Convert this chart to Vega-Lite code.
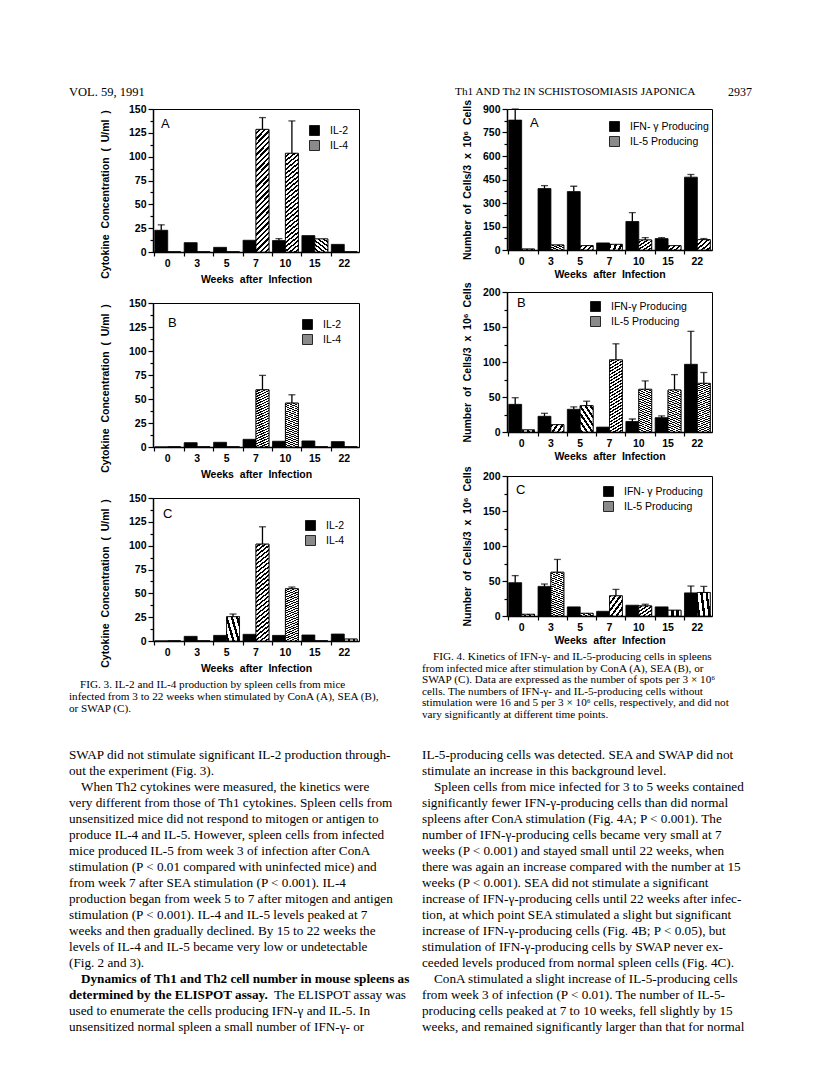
{
"$schema":"https://vega.github.io/schema/vega-lite/v6.json",
"padding":{"left":69,"top":86,"right":5,"bottom":5},
"background":"white",
"bounds":"flush",
"spacing":354,
"resolve":{"scale":{"x":"independent","y":"independent","xOffset":"independent","fill":"independent"},"legend":{"fill":"independent"}},
"config":{
 "view":{"stroke":null},
 "font":"Liberation Sans",
 "axis":{"domainColor":"black","domainWidth":1.5,"tickColor":"black","tickWidth":1.2,"labelColor":"black","labelFont":"Liberation Sans","labelFontWeight":"bold","labelFontSize":10.5,"titleColor":"black","titleFont":"Liberation Sans","titleFontWeight":"bold","titleFontSize":10.5,"grid":false},
 "axisX":{"labelAngle":0,"tickSize":4,"labelPadding":2,"titlePadding":6},
 "axisY":{"labelPadding":2},
 "legend":{"symbolType":"square","symbolSize":100,"symbolStrokeColor":"black","symbolStrokeWidth":0.8,"labelFont":"Liberation Sans","labelFontSize":10.5,"labelColor":"black","rowPadding":0,"labelOffset":10,"padding":0}
},
"hconcat":[
{"bounds":"flush","spacing":0,
 "resolve":{"scale":{"x":"independent","y":"independent","xOffset":"independent","fill":"independent"},"legend":{"fill":"independent"}},
 "vconcat":[
 {"width":206,"height":16.5,"data":{"values":[{"i":0,"t":"VOL. 59, 1991"}]},
  "mark":{"type":"text","align":"left","baseline":"middle","dx":-84,"font":"Liberation Serif","fontSize":12.5,"color":"black"},
  "encoding":{"x":{"value":0},"y":{"field":"i","type":"ordinal","scale":{"type":"point","padding":0,"align":0},"axis":null},"text":{"field":"t"}}},

 {"width":206,"height":143,"view":{"stroke":"black","strokeWidth":1},
  "title":{"text":"A","anchor":"start","frame":"group","offset":-27,"dx":8,"font":"Liberation Sans","fontSize":13,"fontWeight":"normal","color":"black"},
  "data":{"values":[
   {"wk":"0","s":"IL-2","v":22.8,"hi":28.5},{"wk":"0","s":"IL-4","v":0},
   {"wk":"3","s":"IL-2","v":9.8},{"wk":"3","s":"IL-4","v":0},
   {"wk":"5","s":"IL-2","v":4.9},{"wk":"5","s":"IL-4","v":0},
   {"wk":"7","s":"IL-2","v":12.3},{"wk":"7","s":"IL-4","v":128.6,"hi":141},
   {"wk":"10","s":"IL-2","v":12,"hi":14},{"wk":"10","s":"IL-4","v":103.5,"hi":137.5},
   {"wk":"15","s":"IL-2","v":17.2},{"wk":"15","s":"IL-4","v":13.7},
   {"wk":"22","s":"IL-2","v":8},{"wk":"22","s":"IL-4","v":0}]},
  "encoding":{
   "x":{"field":"wk","type":"ordinal","sort":["0","3","5","7","10","15","22"],"scale":{"paddingInner":0.12,"paddingOuter":0.06},"axis":{"title":"Weeks\u00a0 after\u00a0 Infection","bandPosition":0}},
   "xOffset":{"field":"s","type":"nominal","scale":{"domain":["IL-2","IL-4"],"paddingInner":0,"paddingOuter":0}},
   "y":{"field":"v","type":"quantitative","scale":{"domain":[0,150],"nice":false},"axis":{"title":"Cytokine\u00a0 Concentration\u00a0 (\u00a0 U/ml\u00a0 )","titlePadding":18,"titleY":85,"values":[0,12.5,25,37.5,50,62.5,75,87.5,100,112.5,125,137.5,150],"labelExpr":"datum.value % 25 === 0 ? datum.label : ''","tickSize":{"condition":{"test":"datum.value % 25 === 0","value":5},"value":3}}}},
  "layer":[
   {"mark":{"type":"bar","stroke":"black","strokeWidth":0.8},"encoding":{"fill":{"field":"s","type":"nominal","scale":{"domain":["IL-2","IL-4"],"range":["black","#8a8a8a"]},"legend":{"orient":"none","legendX":156,"legendY":16,"title":null,"encode":{"symbols":{"update":{"stroke":{"value":"black"},"strokeWidth":{"value":0.8}}}}}}}},
   {"transform":[{"filter":"datum.s === 'IL-4'"}],"mark":{"type":"bar","stroke":"black","strokeWidth":0.8,"fill":{"gradient":"linear","x1":0,"y1":0,"x2":0.12,"y2":1.12,"stops":[{"offset":0,"color":"white"},{"offset":0.0212,"color":"white"},{"offset":0.0212,"color":"black"},{"offset":0.0385,"color":"black"},{"offset":0.0385,"color":"white"},{"offset":0.0596,"color":"white"},{"offset":0.0596,"color":"black"},{"offset":0.0769,"color":"black"},{"offset":0.0769,"color":"white"},{"offset":0.0981,"color":"white"},{"offset":0.0981,"color":"black"},{"offset":0.1154,"color":"black"},{"offset":0.1154,"color":"white"},{"offset":0.1365,"color":"white"},{"offset":0.1365,"color":"black"},{"offset":0.1538,"color":"black"},{"offset":0.1538,"color":"white"},{"offset":0.175,"color":"white"},{"offset":0.175,"color":"black"},{"offset":0.1923,"color":"black"},{"offset":0.1923,"color":"white"},{"offset":0.2135,"color":"white"},{"offset":0.2135,"color":"black"},{"offset":0.2308,"color":"black"},{"offset":0.2308,"color":"white"},{"offset":0.2519,"color":"white"},{"offset":0.2519,"color":"black"},{"offset":0.2692,"color":"black"},{"offset":0.2692,"color":"white"},{"offset":0.2904,"color":"white"},{"offset":0.2904,"color":"black"},{"offset":0.3077,"color":"black"},{"offset":0.3077,"color":"white"},{"offset":0.3288,"color":"white"},{"offset":0.3288,"color":"black"},{"offset":0.3462,"color":"black"},{"offset":0.3462,"color":"white"},{"offset":0.3673,"color":"white"},{"offset":0.3673,"color":"black"},{"offset":0.3846,"color":"black"},{"offset":0.3846,"color":"white"},{"offset":0.4058,"color":"white"},{"offset":0.4058,"color":"black"},{"offset":0.4231,"color":"black"},{"offset":0.4231,"color":"white"},{"offset":0.4442,"color":"white"},{"offset":0.4442,"color":"black"},{"offset":0.4615,"color":"black"},{"offset":0.4615,"color":"white"},{"offset":0.4827,"color":"white"},{"offset":0.4827,"color":"black"},{"offset":0.5,"color":"black"},{"offset":0.5,"color":"white"},{"offset":0.5212,"color":"white"},{"offset":0.5212,"color":"black"},{"offset":0.5385,"color":"black"},{"offset":0.5385,"color":"white"},{"offset":0.5596,"color":"white"},{"offset":0.5596,"color":"black"},{"offset":0.5769,"color":"black"},{"offset":0.5769,"color":"white"},{"offset":0.5981,"color":"white"},{"offset":0.5981,"color":"black"},{"offset":0.6154,"color":"black"},{"offset":0.6154,"color":"white"},{"offset":0.6365,"color":"white"},{"offset":0.6365,"color":"black"},{"offset":0.6538,"color":"black"},{"offset":0.6538,"color":"white"},{"offset":0.675,"color":"white"},{"offset":0.675,"color":"black"},{"offset":0.6923,"color":"black"},{"offset":0.6923,"color":"white"},{"offset":0.7135,"color":"white"},{"offset":0.7135,"color":"black"},{"offset":0.7308,"color":"black"},{"offset":0.7308,"color":"white"},{"offset":0.7519,"color":"white"},{"offset":0.7519,"color":"black"},{"offset":0.7692,"color":"black"},{"offset":0.7692,"color":"white"},{"offset":0.7904,"color":"white"},{"offset":0.7904,"color":"black"},{"offset":0.8077,"color":"black"},{"offset":0.8077,"color":"white"},{"offset":0.8288,"color":"white"},{"offset":0.8288,"color":"black"},{"offset":0.8462,"color":"black"},{"offset":0.8462,"color":"white"},{"offset":0.8673,"color":"white"},{"offset":0.8673,"color":"black"},{"offset":0.8846,"color":"black"},{"offset":0.8846,"color":"white"},{"offset":0.9058,"color":"white"},{"offset":0.9058,"color":"black"},{"offset":0.9231,"color":"black"},{"offset":0.9231,"color":"white"},{"offset":0.9442,"color":"white"},{"offset":0.9442,"color":"black"},{"offset":0.9615,"color":"black"},{"offset":0.9615,"color":"white"},{"offset":0.9827,"color":"white"},{"offset":0.9827,"color":"black"},{"offset":1,"color":"black"}]}}},
   {"transform":[{"filter":"isValid(datum.hi)"}],"mark":{"type":"rule","color":"black","strokeWidth":1.3},"encoding":{"y2":{"field":"hi"}}},
   {"transform":[{"filter":"isValid(datum.hi)"}],"mark":{"type":"tick","orient":"horizontal","size":7,"thickness":1.3,"color":"black"},"encoding":{"y":{"field":"hi","type":"quantitative"}}}
  ]},

 {"width":206,"height":51,"data":{"values":[{"t":""}]},"mark":{"type":"text"},"encoding":{"text":{"field":"t"}}},

 {"width":206,"height":144,"view":{"stroke":"black","strokeWidth":1},
  "title":{"text":"B","anchor":"start","frame":"group","offset":-32,"dx":15,"font":"Liberation Sans","fontSize":13,"fontWeight":"normal","color":"black"},
  "data":{"values":[
   {"wk":"0","s":"IL-2","v":0},{"wk":"0","s":"IL-4","v":0},
   {"wk":"3","s":"IL-2","v":4.5},{"wk":"3","s":"IL-4","v":0},
   {"wk":"5","s":"IL-2","v":4.9},{"wk":"5","s":"IL-4","v":0},
   {"wk":"7","s":"IL-2","v":8},{"wk":"7","s":"IL-4","v":59.6,"hi":74.6},
   {"wk":"10","s":"IL-2","v":6},{"wk":"10","s":"IL-4","v":45.7,"hi":54.4},
   {"wk":"15","s":"IL-2","v":6.3},{"wk":"15","s":"IL-4","v":0},
   {"wk":"22","s":"IL-2","v":5.6},{"wk":"22","s":"IL-4","v":0}]},
  "encoding":{
   "x":{"field":"wk","type":"ordinal","sort":["0","3","5","7","10","15","22"],"scale":{"paddingInner":0.12,"paddingOuter":0.06},"axis":{"title":"Weeks\u00a0 after\u00a0 Infection","bandPosition":0}},
   "xOffset":{"field":"s","type":"nominal","scale":{"domain":["IL-2","IL-4"],"paddingInner":0,"paddingOuter":0}},
   "y":{"field":"v","type":"quantitative","scale":{"domain":[0,150],"nice":false},"axis":{"title":"Cytokine\u00a0 Concentration\u00a0 (\u00a0 U/ml\u00a0 )","titlePadding":18,"titleY":85,"values":[0,12.5,25,37.5,50,62.5,75,87.5,100,112.5,125,137.5,150],"labelExpr":"datum.value % 25 === 0 ? datum.label : ''","tickSize":{"condition":{"test":"datum.value % 25 === 0","value":5},"value":3}}}},
  "layer":[
   {"mark":{"type":"bar","stroke":"black","strokeWidth":0.8},"encoding":{"fill":{"field":"s","type":"nominal","scale":{"domain":["IL-2","IL-4"],"range":["black","#8a8a8a"]},"legend":{"orient":"none","legendX":149,"legendY":16,"title":null,"encode":{"symbols":{"update":{"stroke":{"value":"black"},"strokeWidth":{"value":0.8}}}}}}}},
   {"transform":[{"filter":"datum.s === 'IL-4'"}],"mark":{"type":"bar","stroke":"black","strokeWidth":0.8,"fill":{"gradient":"linear","x1":0,"y1":0,"x2":0.12,"y2":1.12,"stops":[{"offset":0,"color":"white"},{"offset":0.0212,"color":"white"},{"offset":0.0212,"color":"black"},{"offset":0.0385,"color":"black"},{"offset":0.0385,"color":"white"},{"offset":0.0596,"color":"white"},{"offset":0.0596,"color":"black"},{"offset":0.0769,"color":"black"},{"offset":0.0769,"color":"white"},{"offset":0.0981,"color":"white"},{"offset":0.0981,"color":"black"},{"offset":0.1154,"color":"black"},{"offset":0.1154,"color":"white"},{"offset":0.1365,"color":"white"},{"offset":0.1365,"color":"black"},{"offset":0.1538,"color":"black"},{"offset":0.1538,"color":"white"},{"offset":0.175,"color":"white"},{"offset":0.175,"color":"black"},{"offset":0.1923,"color":"black"},{"offset":0.1923,"color":"white"},{"offset":0.2135,"color":"white"},{"offset":0.2135,"color":"black"},{"offset":0.2308,"color":"black"},{"offset":0.2308,"color":"white"},{"offset":0.2519,"color":"white"},{"offset":0.2519,"color":"black"},{"offset":0.2692,"color":"black"},{"offset":0.2692,"color":"white"},{"offset":0.2904,"color":"white"},{"offset":0.2904,"color":"black"},{"offset":0.3077,"color":"black"},{"offset":0.3077,"color":"white"},{"offset":0.3288,"color":"white"},{"offset":0.3288,"color":"black"},{"offset":0.3462,"color":"black"},{"offset":0.3462,"color":"white"},{"offset":0.3673,"color":"white"},{"offset":0.3673,"color":"black"},{"offset":0.3846,"color":"black"},{"offset":0.3846,"color":"white"},{"offset":0.4058,"color":"white"},{"offset":0.4058,"color":"black"},{"offset":0.4231,"color":"black"},{"offset":0.4231,"color":"white"},{"offset":0.4442,"color":"white"},{"offset":0.4442,"color":"black"},{"offset":0.4615,"color":"black"},{"offset":0.4615,"color":"white"},{"offset":0.4827,"color":"white"},{"offset":0.4827,"color":"black"},{"offset":0.5,"color":"black"},{"offset":0.5,"color":"white"},{"offset":0.5212,"color":"white"},{"offset":0.5212,"color":"black"},{"offset":0.5385,"color":"black"},{"offset":0.5385,"color":"white"},{"offset":0.5596,"color":"white"},{"offset":0.5596,"color":"black"},{"offset":0.5769,"color":"black"},{"offset":0.5769,"color":"white"},{"offset":0.5981,"color":"white"},{"offset":0.5981,"color":"black"},{"offset":0.6154,"color":"black"},{"offset":0.6154,"color":"white"},{"offset":0.6365,"color":"white"},{"offset":0.6365,"color":"black"},{"offset":0.6538,"color":"black"},{"offset":0.6538,"color":"white"},{"offset":0.675,"color":"white"},{"offset":0.675,"color":"black"},{"offset":0.6923,"color":"black"},{"offset":0.6923,"color":"white"},{"offset":0.7135,"color":"white"},{"offset":0.7135,"color":"black"},{"offset":0.7308,"color":"black"},{"offset":0.7308,"color":"white"},{"offset":0.7519,"color":"white"},{"offset":0.7519,"color":"black"},{"offset":0.7692,"color":"black"},{"offset":0.7692,"color":"white"},{"offset":0.7904,"color":"white"},{"offset":0.7904,"color":"black"},{"offset":0.8077,"color":"black"},{"offset":0.8077,"color":"white"},{"offset":0.8288,"color":"white"},{"offset":0.8288,"color":"black"},{"offset":0.8462,"color":"black"},{"offset":0.8462,"color":"white"},{"offset":0.8673,"color":"white"},{"offset":0.8673,"color":"black"},{"offset":0.8846,"color":"black"},{"offset":0.8846,"color":"white"},{"offset":0.9058,"color":"white"},{"offset":0.9058,"color":"black"},{"offset":0.9231,"color":"black"},{"offset":0.9231,"color":"white"},{"offset":0.9442,"color":"white"},{"offset":0.9442,"color":"black"},{"offset":0.9615,"color":"black"},{"offset":0.9615,"color":"white"},{"offset":0.9827,"color":"white"},{"offset":0.9827,"color":"black"},{"offset":1,"color":"black"}]}}},
   {"transform":[{"filter":"isValid(datum.hi)"}],"mark":{"type":"rule","color":"black","strokeWidth":1.3},"encoding":{"y2":{"field":"hi"}}},
   {"transform":[{"filter":"isValid(datum.hi)"}],"mark":{"type":"tick","orient":"horizontal","size":7,"thickness":1.3,"color":"black"},"encoding":{"y":{"field":"hi","type":"quantitative"}}}
  ]},

 {"width":206,"height":51,"data":{"values":[{"t":""}]},"mark":{"type":"text"},"encoding":{"text":{"field":"t"}}},

 {"width":206,"height":143,"view":{"stroke":"black","strokeWidth":1},
  "title":{"text":"C","anchor":"start","frame":"group","offset":-28,"dx":10,"font":"Liberation Sans","fontSize":13,"fontWeight":"normal","color":"black"},
  "data":{"values":[
   {"wk":"0","s":"IL-2","v":0},{"wk":"0","s":"IL-4","v":0},
   {"wk":"3","s":"IL-2","v":4.9},{"wk":"3","s":"IL-4","v":0},
   {"wk":"5","s":"IL-2","v":5.9},{"wk":"5","s":"IL-4","v":25.5,"hi":28.3},
   {"wk":"7","s":"IL-2","v":7},{"wk":"7","s":"IL-4","v":101.6,"hi":119.8},
   {"wk":"10","s":"IL-2","v":5.9},{"wk":"10","s":"IL-4","v":54.8,"hi":56.6},
   {"wk":"15","s":"IL-2","v":6.3},{"wk":"15","s":"IL-4","v":0},
   {"wk":"22","s":"IL-2","v":7.3},{"wk":"22","s":"IL-4","v":2}]},
  "encoding":{
   "x":{"field":"wk","type":"ordinal","sort":["0","3","5","7","10","15","22"],"scale":{"paddingInner":0.12,"paddingOuter":0.06},"axis":{"title":"Weeks\u00a0 after\u00a0 Infection","bandPosition":0}},
   "xOffset":{"field":"s","type":"nominal","scale":{"domain":["IL-2","IL-4"],"paddingInner":0,"paddingOuter":0}},
   "y":{"field":"v","type":"quantitative","scale":{"domain":[0,150],"nice":false},"axis":{"title":"Cytokine\u00a0 Concentration\u00a0 (\u00a0 U/ml\u00a0 )","titlePadding":18,"titleY":85,"values":[0,12.5,25,37.5,50,62.5,75,87.5,100,112.5,125,137.5,150],"labelExpr":"datum.value % 25 === 0 ? datum.label : ''","tickSize":{"condition":{"test":"datum.value % 25 === 0","value":5},"value":3}}}},
  "layer":[
   {"mark":{"type":"bar","stroke":"black","strokeWidth":0.8},"encoding":{"fill":{"field":"s","type":"nominal","scale":{"domain":["IL-2","IL-4"],"range":["black","#8a8a8a"]},"legend":{"orient":"none","legendX":152,"legendY":22,"title":null,"encode":{"symbols":{"update":{"stroke":{"value":"black"},"strokeWidth":{"value":0.8}}}}}}}},
   {"transform":[{"filter":"datum.s === 'IL-4'"}],"mark":{"type":"bar","stroke":"black","strokeWidth":0.8,"fill":{"gradient":"linear","x1":0,"y1":0,"x2":0.12,"y2":1.12,"stops":[{"offset":0,"color":"white"},{"offset":0.0212,"color":"white"},{"offset":0.0212,"color":"black"},{"offset":0.0385,"color":"black"},{"offset":0.0385,"color":"white"},{"offset":0.0596,"color":"white"},{"offset":0.0596,"color":"black"},{"offset":0.0769,"color":"black"},{"offset":0.0769,"color":"white"},{"offset":0.0981,"color":"white"},{"offset":0.0981,"color":"black"},{"offset":0.1154,"color":"black"},{"offset":0.1154,"color":"white"},{"offset":0.1365,"color":"white"},{"offset":0.1365,"color":"black"},{"offset":0.1538,"color":"black"},{"offset":0.1538,"color":"white"},{"offset":0.175,"color":"white"},{"offset":0.175,"color":"black"},{"offset":0.1923,"color":"black"},{"offset":0.1923,"color":"white"},{"offset":0.2135,"color":"white"},{"offset":0.2135,"color":"black"},{"offset":0.2308,"color":"black"},{"offset":0.2308,"color":"white"},{"offset":0.2519,"color":"white"},{"offset":0.2519,"color":"black"},{"offset":0.2692,"color":"black"},{"offset":0.2692,"color":"white"},{"offset":0.2904,"color":"white"},{"offset":0.2904,"color":"black"},{"offset":0.3077,"color":"black"},{"offset":0.3077,"color":"white"},{"offset":0.3288,"color":"white"},{"offset":0.3288,"color":"black"},{"offset":0.3462,"color":"black"},{"offset":0.3462,"color":"white"},{"offset":0.3673,"color":"white"},{"offset":0.3673,"color":"black"},{"offset":0.3846,"color":"black"},{"offset":0.3846,"color":"white"},{"offset":0.4058,"color":"white"},{"offset":0.4058,"color":"black"},{"offset":0.4231,"color":"black"},{"offset":0.4231,"color":"white"},{"offset":0.4442,"color":"white"},{"offset":0.4442,"color":"black"},{"offset":0.4615,"color":"black"},{"offset":0.4615,"color":"white"},{"offset":0.4827,"color":"white"},{"offset":0.4827,"color":"black"},{"offset":0.5,"color":"black"},{"offset":0.5,"color":"white"},{"offset":0.5212,"color":"white"},{"offset":0.5212,"color":"black"},{"offset":0.5385,"color":"black"},{"offset":0.5385,"color":"white"},{"offset":0.5596,"color":"white"},{"offset":0.5596,"color":"black"},{"offset":0.5769,"color":"black"},{"offset":0.5769,"color":"white"},{"offset":0.5981,"color":"white"},{"offset":0.5981,"color":"black"},{"offset":0.6154,"color":"black"},{"offset":0.6154,"color":"white"},{"offset":0.6365,"color":"white"},{"offset":0.6365,"color":"black"},{"offset":0.6538,"color":"black"},{"offset":0.6538,"color":"white"},{"offset":0.675,"color":"white"},{"offset":0.675,"color":"black"},{"offset":0.6923,"color":"black"},{"offset":0.6923,"color":"white"},{"offset":0.7135,"color":"white"},{"offset":0.7135,"color":"black"},{"offset":0.7308,"color":"black"},{"offset":0.7308,"color":"white"},{"offset":0.7519,"color":"white"},{"offset":0.7519,"color":"black"},{"offset":0.7692,"color":"black"},{"offset":0.7692,"color":"white"},{"offset":0.7904,"color":"white"},{"offset":0.7904,"color":"black"},{"offset":0.8077,"color":"black"},{"offset":0.8077,"color":"white"},{"offset":0.8288,"color":"white"},{"offset":0.8288,"color":"black"},{"offset":0.8462,"color":"black"},{"offset":0.8462,"color":"white"},{"offset":0.8673,"color":"white"},{"offset":0.8673,"color":"black"},{"offset":0.8846,"color":"black"},{"offset":0.8846,"color":"white"},{"offset":0.9058,"color":"white"},{"offset":0.9058,"color":"black"},{"offset":0.9231,"color":"black"},{"offset":0.9231,"color":"white"},{"offset":0.9442,"color":"white"},{"offset":0.9442,"color":"black"},{"offset":0.9615,"color":"black"},{"offset":0.9615,"color":"white"},{"offset":0.9827,"color":"white"},{"offset":0.9827,"color":"black"},{"offset":1,"color":"black"}]}}},
   {"transform":[{"filter":"isValid(datum.hi)"}],"mark":{"type":"rule","color":"black","strokeWidth":1.3},"encoding":{"y2":{"field":"hi"}}},
   {"transform":[{"filter":"isValid(datum.hi)"}],"mark":{"type":"tick","orient":"horizontal","size":7,"thickness":1.3,"color":"black"},"encoding":{"y":{"field":"hi","type":"quantitative"}}}
  ]},

 {"width":206,"height":44,"data":{"values":[{"t":""}]},"mark":{"type":"text"},"encoding":{"text":{"field":"t"}}},

 {"width":206,"height":24,"data":{"values":[
   {"i":0,"t":"FIG. 3. IL-2 and IL-4 production by spleen cells from mice","b":3},
   {"i":1,"t":"infected from 3 to 22 weeks when stimulated by ConA (A), SEA (B),","b":0},
   {"i":2,"t":"or SWAP (C).","b":0}]},
  "encoding":{"x":{"value":0},"y":{"field":"i","type":"ordinal","scale":{"type":"point","padding":0,"align":0},"axis":null},"text":{"field":"t"}},
  "layer":[
   {"transform":[{"filter":"datum.b === 0"}],"mark":{"type":"text","align":"left","baseline":"middle","dx":-84,"font":"Liberation Serif","fontSize":11.2,"color":"black"}},
   {"transform":[{"filter":"datum.b === 3"}],"mark":{"type":"text","align":"left","baseline":"middle","dx":-73,"font":"Liberation Serif","fontSize":11.2,"color":"black"}}
  ]},

 {"width":206,"height":46,"data":{"values":[{"t":""}]},"mark":{"type":"text"},"encoding":{"text":{"field":"t"}}},

 {"width":206,"height":272,"data":{"values":[
   {"i":0,"t":"SWAP did not stimulate significant IL-2 production through-","b":0},
   {"i":1,"t":"out the experiment (Fig. 3).","b":0},
   {"i":2,"t":"When Th2 cytokines were measured, the kinetics were","b":3},
   {"i":3,"t":"very different from those of Th1 cytokines. Spleen cells from","b":0},
   {"i":4,"t":"unsensitized mice did not respond to mitogen or antigen to","b":0},
   {"i":5,"t":"produce IL-4 and IL-5. However, spleen cells from infected","b":0},
   {"i":6,"t":"mice produced IL-5 from week 3 of infection after ConA","b":0},
   {"i":7,"t":"stimulation (P < 0.01 compared with uninfected mice) and","b":0},
   {"i":8,"t":"from week 7 after SEA stimulation (P < 0.001). IL-4","b":0},
   {"i":9,"t":"production began from week 5 to 7 after mitogen and antigen","b":0},
   {"i":10,"t":"stimulation (P < 0.001). IL-4 and IL-5 levels peaked at 7","b":0},
   {"i":11,"t":"weeks and then gradually declined. By 15 to 22 weeks the","b":0},
   {"i":12,"t":"levels of IL-4 and IL-5 became very low or undetectable","b":0},
   {"i":13,"t":"(Fig. 2 and 3).","b":0},
   {"i":14,"t":"Dynamics of Th1 and Th2 cell number in mouse spleens as","b":4},
   {"i":15,"t":"determined by the ELISPOT assay.","b":1},
   {"i":15,"t":"The ELISPOT assay was","b":2},
   {"i":16,"t":"used to enumerate the cells producing IFN-γ and IL-5. In","b":0},
   {"i":17,"t":"unsensitized normal spleen a small number of IFN-γ- or","b":0}]},
  "encoding":{"x":{"value":0},"y":{"field":"i","type":"ordinal","scale":{"type":"point","padding":0,"align":0},"axis":null},"text":{"field":"t"}},
  "layer":[
   {"transform":[{"filter":"datum.b === 0"}],"mark":{"type":"text","align":"left","baseline":"middle","dx":-84,"font":"Liberation Serif","fontSize":13.2,"color":"black"}},
   {"transform":[{"filter":"datum.b === 3"}],"mark":{"type":"text","align":"left","baseline":"middle","dx":-72,"font":"Liberation Serif","fontSize":13.2,"color":"black"}},
   {"transform":[{"filter":"datum.b === 1"}],"mark":{"type":"text","align":"left","baseline":"middle","dx":-84,"font":"Liberation Serif","fontSize":13.2,"fontWeight":"bold","color":"black"}},
   {"transform":[{"filter":"datum.b === 4"}],"mark":{"type":"text","align":"left","baseline":"middle","dx":-72,"font":"Liberation Serif","fontSize":13.2,"fontWeight":"bold","color":"black"}},
   {"transform":[{"filter":"datum.b === 2"}],"mark":{"type":"text","align":"left","baseline":"middle","dx":121,"font":"Liberation Serif","fontSize":13.2,"color":"black"}}
  ]}
 ]},

{"bounds":"flush","spacing":0,
 "resolve":{"scale":{"x":"independent","y":"independent","xOffset":"independent","fill":"independent"},"legend":{"fill":"independent"}},
 "vconcat":[
 {"width":205,"height":16.5,"data":{"values":[{"i":0,"t":"Th1 AND Th2 IN SCHISTOSOMIASIS JAPONICA","k":"a"},{"i":0,"t":"2937","k":"b"}]},
  "encoding":{"x":{"value":0},"y":{"field":"i","type":"ordinal","scale":{"type":"point","padding":0,"align":0},"axis":null},"text":{"field":"t"}},
  "layer":[
   {"transform":[{"filter":"datum.k === 'a'"}],"mark":{"type":"text","align":"left","baseline":"middle","dx":-52,"font":"Liberation Serif","fontSize":11.3,"color":"black"}},
   {"transform":[{"filter":"datum.k === 'b'"}],"mark":{"type":"text","align":"left","baseline":"middle","dx":221,"font":"Liberation Serif","fontSize":12,"color":"black"}}
  ]},

 {"width":205,"height":141,"view":{"stroke":"black","strokeWidth":1},
  "title":{"text":"A","anchor":"start","frame":"group","offset":-31,"dx":23,"font":"Liberation Sans","fontSize":13,"fontWeight":"normal","color":"black"},
  "data":{"values":[
   {"wk":"0","s":"IFN- γ Producing","v":829,"hi":900},{"wk":"0","s":"IL-5 Producing","v":6},
   {"wk":"3","s":"IFN- γ Producing","v":392,"hi":411},{"wk":"3","s":"IL-5 Producing","v":32},
   {"wk":"5","s":"IFN- γ Producing","v":373,"hi":407},{"wk":"5","s":"IL-5 Producing","v":28},
   {"wk":"7","s":"IFN- γ Producing","v":45},{"wk":"7","s":"IL-5 Producing","v":36},
   {"wk":"10","s":"IFN- γ Producing","v":182,"hi":238},{"wk":"10","s":"IL-5 Producing","v":64,"hi":79},
   {"wk":"15","s":"IFN- γ Producing","v":73,"hi":79},{"wk":"15","s":"IL-5 Producing","v":28},
   {"wk":"22","s":"IFN- γ Producing","v":465,"hi":482},{"wk":"22","s":"IL-5 Producing","v":66,"hi":73}]},
  "encoding":{
   "x":{"field":"wk","type":"ordinal","sort":["0","3","5","7","10","15","22"],"scale":{"paddingInner":0.12,"paddingOuter":0.06},"axis":{"title":"Weeks\u00a0 after\u00a0 Infection","bandPosition":0,"titlePadding":3}},
   "xOffset":{"field":"s","type":"nominal","scale":{"domain":["IFN- γ Producing","IL-5 Producing"],"paddingInner":0,"paddingOuter":0}},
   "y":{"field":"v","type":"quantitative","scale":{"domain":[0,900],"nice":false},"axis":{"title":"Number\u00a0 of\u00a0 Cells/3\u00a0 x\u00a0 10⁶\u00a0 Cells","titlePadding":10,"values":[0,75,150,225,300,375,450,525,600,675,750,825,900],"labelExpr":"datum.value % 150 === 0 ? datum.label : ''","tickSize":{"condition":{"test":"datum.value % 150 === 0","value":5},"value":3}}}},
  "layer":[
   {"mark":{"type":"bar","stroke":"black","strokeWidth":0.8},"encoding":{"fill":{"field":"s","type":"nominal","scale":{"domain":["IFN- γ Producing","IL-5 Producing"],"range":["black","#8a8a8a"]},"legend":{"orient":"none","legendX":102,"legendY":12,"title":null,"encode":{"symbols":{"update":{"stroke":{"value":"black"},"strokeWidth":{"value":0.8}}}}}}}},
   {"transform":[{"filter":"datum.s === 'IL-5 Producing'"}],"mark":{"type":"bar","stroke":"black","strokeWidth":0.8,"fill":{"gradient":"linear","x1":0,"y1":0,"x2":0.12,"y2":1.12,"stops":[{"offset":0,"color":"white"},{"offset":0.0212,"color":"white"},{"offset":0.0212,"color":"black"},{"offset":0.0385,"color":"black"},{"offset":0.0385,"color":"white"},{"offset":0.0596,"color":"white"},{"offset":0.0596,"color":"black"},{"offset":0.0769,"color":"black"},{"offset":0.0769,"color":"white"},{"offset":0.0981,"color":"white"},{"offset":0.0981,"color":"black"},{"offset":0.1154,"color":"black"},{"offset":0.1154,"color":"white"},{"offset":0.1365,"color":"white"},{"offset":0.1365,"color":"black"},{"offset":0.1538,"color":"black"},{"offset":0.1538,"color":"white"},{"offset":0.175,"color":"white"},{"offset":0.175,"color":"black"},{"offset":0.1923,"color":"black"},{"offset":0.1923,"color":"white"},{"offset":0.2135,"color":"white"},{"offset":0.2135,"color":"black"},{"offset":0.2308,"color":"black"},{"offset":0.2308,"color":"white"},{"offset":0.2519,"color":"white"},{"offset":0.2519,"color":"black"},{"offset":0.2692,"color":"black"},{"offset":0.2692,"color":"white"},{"offset":0.2904,"color":"white"},{"offset":0.2904,"color":"black"},{"offset":0.3077,"color":"black"},{"offset":0.3077,"color":"white"},{"offset":0.3288,"color":"white"},{"offset":0.3288,"color":"black"},{"offset":0.3462,"color":"black"},{"offset":0.3462,"color":"white"},{"offset":0.3673,"color":"white"},{"offset":0.3673,"color":"black"},{"offset":0.3846,"color":"black"},{"offset":0.3846,"color":"white"},{"offset":0.4058,"color":"white"},{"offset":0.4058,"color":"black"},{"offset":0.4231,"color":"black"},{"offset":0.4231,"color":"white"},{"offset":0.4442,"color":"white"},{"offset":0.4442,"color":"black"},{"offset":0.4615,"color":"black"},{"offset":0.4615,"color":"white"},{"offset":0.4827,"color":"white"},{"offset":0.4827,"color":"black"},{"offset":0.5,"color":"black"},{"offset":0.5,"color":"white"},{"offset":0.5212,"color":"white"},{"offset":0.5212,"color":"black"},{"offset":0.5385,"color":"black"},{"offset":0.5385,"color":"white"},{"offset":0.5596,"color":"white"},{"offset":0.5596,"color":"black"},{"offset":0.5769,"color":"black"},{"offset":0.5769,"color":"white"},{"offset":0.5981,"color":"white"},{"offset":0.5981,"color":"black"},{"offset":0.6154,"color":"black"},{"offset":0.6154,"color":"white"},{"offset":0.6365,"color":"white"},{"offset":0.6365,"color":"black"},{"offset":0.6538,"color":"black"},{"offset":0.6538,"color":"white"},{"offset":0.675,"color":"white"},{"offset":0.675,"color":"black"},{"offset":0.6923,"color":"black"},{"offset":0.6923,"color":"white"},{"offset":0.7135,"color":"white"},{"offset":0.7135,"color":"black"},{"offset":0.7308,"color":"black"},{"offset":0.7308,"color":"white"},{"offset":0.7519,"color":"white"},{"offset":0.7519,"color":"black"},{"offset":0.7692,"color":"black"},{"offset":0.7692,"color":"white"},{"offset":0.7904,"color":"white"},{"offset":0.7904,"color":"black"},{"offset":0.8077,"color":"black"},{"offset":0.8077,"color":"white"},{"offset":0.8288,"color":"white"},{"offset":0.8288,"color":"black"},{"offset":0.8462,"color":"black"},{"offset":0.8462,"color":"white"},{"offset":0.8673,"color":"white"},{"offset":0.8673,"color":"black"},{"offset":0.8846,"color":"black"},{"offset":0.8846,"color":"white"},{"offset":0.9058,"color":"white"},{"offset":0.9058,"color":"black"},{"offset":0.9231,"color":"black"},{"offset":0.9231,"color":"white"},{"offset":0.9442,"color":"white"},{"offset":0.9442,"color":"black"},{"offset":0.9615,"color":"black"},{"offset":0.9615,"color":"white"},{"offset":0.9827,"color":"white"},{"offset":0.9827,"color":"black"},{"offset":1,"color":"black"}]}}},
   {"transform":[{"filter":"isValid(datum.hi)"}],"mark":{"type":"rule","color":"black","strokeWidth":1.3},"encoding":{"y2":{"field":"hi"}}},
   {"transform":[{"filter":"isValid(datum.hi)"}],"mark":{"type":"tick","orient":"horizontal","size":7,"thickness":1.3,"color":"black"},"encoding":{"y":{"field":"hi","type":"quantitative"}}}
  ]},

 {"width":205,"height":42,"data":{"values":[{"t":""}]},"mark":{"type":"text"},"encoding":{"text":{"field":"t"}}},

 {"width":205,"height":140,"view":{"stroke":"black","strokeWidth":1},
  "title":{"text":"B","anchor":"start","frame":"group","offset":-28,"dx":10,"font":"Liberation Sans","fontSize":13,"fontWeight":"normal","color":"black"},
  "data":{"values":[
   {"wk":"0","s":"IFN-γ Producing","v":39.5,"hi":49},{"wk":"0","s":"IL-5 Producing","v":3},
   {"wk":"3","s":"IFN-γ Producing","v":22.4,"hi":26.7},{"wk":"3","s":"IL-5 Producing","v":10.5},
   {"wk":"5","s":"IFN-γ Producing","v":32.4,"hi":36},{"wk":"5","s":"IL-5 Producing","v":37.6,"hi":44},
   {"wk":"7","s":"IFN-γ Producing","v":7},{"wk":"7","s":"IL-5 Producing","v":103,"hi":126},
   {"wk":"10","s":"IFN-γ Producing","v":15,"hi":18.6},{"wk":"10","s":"IL-5 Producing","v":61,"hi":73},
   {"wk":"15","s":"IFN-γ Producing","v":20.5,"hi":23},{"wk":"15","s":"IL-5 Producing","v":60,"hi":82},
   {"wk":"22","s":"IFN-γ Producing","v":96.7,"hi":143.8},{"wk":"22","s":"IL-5 Producing","v":69.5,"hi":85}]},
  "encoding":{
   "x":{"field":"wk","type":"ordinal","sort":["0","3","5","7","10","15","22"],"scale":{"paddingInner":0.12,"paddingOuter":0.06},"axis":{"title":"Weeks\u00a0 after\u00a0 Infection","bandPosition":0,"titlePadding":3}},
   "xOffset":{"field":"s","type":"nominal","scale":{"domain":["IFN-γ Producing","IL-5 Producing"],"paddingInner":0,"paddingOuter":0}},
   "y":{"field":"v","type":"quantitative","scale":{"domain":[0,200],"nice":false},"axis":{"title":"Number\u00a0 of\u00a0 Cells/3\u00a0 x\u00a0 10⁶\u00a0 Cells","titlePadding":10,"values":[0,25,50,75,100,125,150,175,200],"labelExpr":"datum.value % 50 === 0 ? datum.label : ''","tickSize":{"condition":{"test":"datum.value % 50 === 0","value":5},"value":3}}}},
  "layer":[
   {"mark":{"type":"bar","stroke":"black","strokeWidth":0.8},"encoding":{"fill":{"field":"s","type":"nominal","scale":{"domain":["IFN-γ Producing","IL-5 Producing"],"range":["black","#8a8a8a"]},"legend":{"orient":"none","legendX":83,"legendY":9,"title":null,"encode":{"symbols":{"update":{"stroke":{"value":"black"},"strokeWidth":{"value":0.8}}}}}}}},
   {"transform":[{"filter":"datum.s === 'IL-5 Producing'"}],"mark":{"type":"bar","stroke":"black","strokeWidth":0.8,"fill":{"gradient":"linear","x1":0,"y1":0,"x2":0.12,"y2":1.12,"stops":[{"offset":0,"color":"white"},{"offset":0.0212,"color":"white"},{"offset":0.0212,"color":"black"},{"offset":0.0385,"color":"black"},{"offset":0.0385,"color":"white"},{"offset":0.0596,"color":"white"},{"offset":0.0596,"color":"black"},{"offset":0.0769,"color":"black"},{"offset":0.0769,"color":"white"},{"offset":0.0981,"color":"white"},{"offset":0.0981,"color":"black"},{"offset":0.1154,"color":"black"},{"offset":0.1154,"color":"white"},{"offset":0.1365,"color":"white"},{"offset":0.1365,"color":"black"},{"offset":0.1538,"color":"black"},{"offset":0.1538,"color":"white"},{"offset":0.175,"color":"white"},{"offset":0.175,"color":"black"},{"offset":0.1923,"color":"black"},{"offset":0.1923,"color":"white"},{"offset":0.2135,"color":"white"},{"offset":0.2135,"color":"black"},{"offset":0.2308,"color":"black"},{"offset":0.2308,"color":"white"},{"offset":0.2519,"color":"white"},{"offset":0.2519,"color":"black"},{"offset":0.2692,"color":"black"},{"offset":0.2692,"color":"white"},{"offset":0.2904,"color":"white"},{"offset":0.2904,"color":"black"},{"offset":0.3077,"color":"black"},{"offset":0.3077,"color":"white"},{"offset":0.3288,"color":"white"},{"offset":0.3288,"color":"black"},{"offset":0.3462,"color":"black"},{"offset":0.3462,"color":"white"},{"offset":0.3673,"color":"white"},{"offset":0.3673,"color":"black"},{"offset":0.3846,"color":"black"},{"offset":0.3846,"color":"white"},{"offset":0.4058,"color":"white"},{"offset":0.4058,"color":"black"},{"offset":0.4231,"color":"black"},{"offset":0.4231,"color":"white"},{"offset":0.4442,"color":"white"},{"offset":0.4442,"color":"black"},{"offset":0.4615,"color":"black"},{"offset":0.4615,"color":"white"},{"offset":0.4827,"color":"white"},{"offset":0.4827,"color":"black"},{"offset":0.5,"color":"black"},{"offset":0.5,"color":"white"},{"offset":0.5212,"color":"white"},{"offset":0.5212,"color":"black"},{"offset":0.5385,"color":"black"},{"offset":0.5385,"color":"white"},{"offset":0.5596,"color":"white"},{"offset":0.5596,"color":"black"},{"offset":0.5769,"color":"black"},{"offset":0.5769,"color":"white"},{"offset":0.5981,"color":"white"},{"offset":0.5981,"color":"black"},{"offset":0.6154,"color":"black"},{"offset":0.6154,"color":"white"},{"offset":0.6365,"color":"white"},{"offset":0.6365,"color":"black"},{"offset":0.6538,"color":"black"},{"offset":0.6538,"color":"white"},{"offset":0.675,"color":"white"},{"offset":0.675,"color":"black"},{"offset":0.6923,"color":"black"},{"offset":0.6923,"color":"white"},{"offset":0.7135,"color":"white"},{"offset":0.7135,"color":"black"},{"offset":0.7308,"color":"black"},{"offset":0.7308,"color":"white"},{"offset":0.7519,"color":"white"},{"offset":0.7519,"color":"black"},{"offset":0.7692,"color":"black"},{"offset":0.7692,"color":"white"},{"offset":0.7904,"color":"white"},{"offset":0.7904,"color":"black"},{"offset":0.8077,"color":"black"},{"offset":0.8077,"color":"white"},{"offset":0.8288,"color":"white"},{"offset":0.8288,"color":"black"},{"offset":0.8462,"color":"black"},{"offset":0.8462,"color":"white"},{"offset":0.8673,"color":"white"},{"offset":0.8673,"color":"black"},{"offset":0.8846,"color":"black"},{"offset":0.8846,"color":"white"},{"offset":0.9058,"color":"white"},{"offset":0.9058,"color":"black"},{"offset":0.9231,"color":"black"},{"offset":0.9231,"color":"white"},{"offset":0.9442,"color":"white"},{"offset":0.9442,"color":"black"},{"offset":0.9615,"color":"black"},{"offset":0.9615,"color":"white"},{"offset":0.9827,"color":"white"},{"offset":0.9827,"color":"black"},{"offset":1,"color":"black"}]}}},
   {"transform":[{"filter":"isValid(datum.hi)"}],"mark":{"type":"rule","color":"black","strokeWidth":1.3},"encoding":{"y2":{"field":"hi"}}},
   {"transform":[{"filter":"isValid(datum.hi)"}],"mark":{"type":"tick","orient":"horizontal","size":7,"thickness":1.3,"color":"black"},"encoding":{"y":{"field":"hi","type":"quantitative"}}}
  ]},

 {"width":205,"height":44,"data":{"values":[{"t":""}]},"mark":{"type":"text"},"encoding":{"text":{"field":"t"}}},

 {"width":205,"height":140,"view":{"stroke":"black","strokeWidth":1},
  "title":{"text":"C","anchor":"start","frame":"group","offset":-31,"dx":9,"font":"Liberation Sans","fontSize":13,"fontWeight":"normal","color":"black"},
  "data":{"values":[
   {"wk":"0","s":"IFN- γ Producing","v":47.6,"hi":57.7},{"wk":"0","s":"IL-5 Producing","v":2.4},
   {"wk":"3","s":"IFN- γ Producing","v":42.3,"hi":45.7},{"wk":"3","s":"IL-5 Producing","v":62.5,"hi":80.8},
   {"wk":"5","s":"IFN- γ Producing","v":13},{"wk":"5","s":"IL-5 Producing","v":3.8},
   {"wk":"7","s":"IFN- γ Producing","v":6.7},{"wk":"7","s":"IL-5 Producing","v":28.8,"hi":38},
   {"wk":"10","s":"IFN- γ Producing","v":15.4},{"wk":"10","s":"IL-5 Producing","v":14.4,"hi":16.8},
   {"wk":"15","s":"IFN- γ Producing","v":13},{"wk":"15","s":"IL-5 Producing","v":8.2},
   {"wk":"22","s":"IFN- γ Producing","v":33,"hi":42.8},{"wk":"22","s":"IL-5 Producing","v":33.6,"hi":42.3}]},
  "encoding":{
   "x":{"field":"wk","type":"ordinal","sort":["0","3","5","7","10","15","22"],"scale":{"paddingInner":0.12,"paddingOuter":0.06},"axis":{"title":"Weeks\u00a0 after\u00a0 Infection","bandPosition":0,"titlePadding":3}},
   "xOffset":{"field":"s","type":"nominal","scale":{"domain":["IFN- γ Producing","IL-5 Producing"],"paddingInner":0,"paddingOuter":0}},
   "y":{"field":"v","type":"quantitative","scale":{"domain":[0,200],"nice":false},"axis":{"title":"Number\u00a0 of\u00a0 Cells/3\u00a0 x\u00a0 10⁶\u00a0 Cells","titlePadding":10,"values":[0,25,50,75,100,125,150,175,200],"labelExpr":"datum.value % 50 === 0 ? datum.label : ''","tickSize":{"condition":{"test":"datum.value % 50 === 0","value":5},"value":3}}}},
  "layer":[
   {"mark":{"type":"bar","stroke":"black","strokeWidth":0.8},"encoding":{"fill":{"field":"s","type":"nominal","scale":{"domain":["IFN- γ Producing","IL-5 Producing"],"range":["black","#8a8a8a"]},"legend":{"orient":"none","legendX":96,"legendY":10,"title":null,"encode":{"symbols":{"update":{"stroke":{"value":"black"},"strokeWidth":{"value":0.8}}}}}}}},
   {"transform":[{"filter":"datum.s === 'IL-5 Producing'"}],"mark":{"type":"bar","stroke":"black","strokeWidth":0.8,"fill":{"gradient":"linear","x1":0,"y1":0,"x2":0.12,"y2":1.12,"stops":[{"offset":0,"color":"white"},{"offset":0.0212,"color":"white"},{"offset":0.0212,"color":"black"},{"offset":0.0385,"color":"black"},{"offset":0.0385,"color":"white"},{"offset":0.0596,"color":"white"},{"offset":0.0596,"color":"black"},{"offset":0.0769,"color":"black"},{"offset":0.0769,"color":"white"},{"offset":0.0981,"color":"white"},{"offset":0.0981,"color":"black"},{"offset":0.1154,"color":"black"},{"offset":0.1154,"color":"white"},{"offset":0.1365,"color":"white"},{"offset":0.1365,"color":"black"},{"offset":0.1538,"color":"black"},{"offset":0.1538,"color":"white"},{"offset":0.175,"color":"white"},{"offset":0.175,"color":"black"},{"offset":0.1923,"color":"black"},{"offset":0.1923,"color":"white"},{"offset":0.2135,"color":"white"},{"offset":0.2135,"color":"black"},{"offset":0.2308,"color":"black"},{"offset":0.2308,"color":"white"},{"offset":0.2519,"color":"white"},{"offset":0.2519,"color":"black"},{"offset":0.2692,"color":"black"},{"offset":0.2692,"color":"white"},{"offset":0.2904,"color":"white"},{"offset":0.2904,"color":"black"},{"offset":0.3077,"color":"black"},{"offset":0.3077,"color":"white"},{"offset":0.3288,"color":"white"},{"offset":0.3288,"color":"black"},{"offset":0.3462,"color":"black"},{"offset":0.3462,"color":"white"},{"offset":0.3673,"color":"white"},{"offset":0.3673,"color":"black"},{"offset":0.3846,"color":"black"},{"offset":0.3846,"color":"white"},{"offset":0.4058,"color":"white"},{"offset":0.4058,"color":"black"},{"offset":0.4231,"color":"black"},{"offset":0.4231,"color":"white"},{"offset":0.4442,"color":"white"},{"offset":0.4442,"color":"black"},{"offset":0.4615,"color":"black"},{"offset":0.4615,"color":"white"},{"offset":0.4827,"color":"white"},{"offset":0.4827,"color":"black"},{"offset":0.5,"color":"black"},{"offset":0.5,"color":"white"},{"offset":0.5212,"color":"white"},{"offset":0.5212,"color":"black"},{"offset":0.5385,"color":"black"},{"offset":0.5385,"color":"white"},{"offset":0.5596,"color":"white"},{"offset":0.5596,"color":"black"},{"offset":0.5769,"color":"black"},{"offset":0.5769,"color":"white"},{"offset":0.5981,"color":"white"},{"offset":0.5981,"color":"black"},{"offset":0.6154,"color":"black"},{"offset":0.6154,"color":"white"},{"offset":0.6365,"color":"white"},{"offset":0.6365,"color":"black"},{"offset":0.6538,"color":"black"},{"offset":0.6538,"color":"white"},{"offset":0.675,"color":"white"},{"offset":0.675,"color":"black"},{"offset":0.6923,"color":"black"},{"offset":0.6923,"color":"white"},{"offset":0.7135,"color":"white"},{"offset":0.7135,"color":"black"},{"offset":0.7308,"color":"black"},{"offset":0.7308,"color":"white"},{"offset":0.7519,"color":"white"},{"offset":0.7519,"color":"black"},{"offset":0.7692,"color":"black"},{"offset":0.7692,"color":"white"},{"offset":0.7904,"color":"white"},{"offset":0.7904,"color":"black"},{"offset":0.8077,"color":"black"},{"offset":0.8077,"color":"white"},{"offset":0.8288,"color":"white"},{"offset":0.8288,"color":"black"},{"offset":0.8462,"color":"black"},{"offset":0.8462,"color":"white"},{"offset":0.8673,"color":"white"},{"offset":0.8673,"color":"black"},{"offset":0.8846,"color":"black"},{"offset":0.8846,"color":"white"},{"offset":0.9058,"color":"white"},{"offset":0.9058,"color":"black"},{"offset":0.9231,"color":"black"},{"offset":0.9231,"color":"white"},{"offset":0.9442,"color":"white"},{"offset":0.9442,"color":"black"},{"offset":0.9615,"color":"black"},{"offset":0.9615,"color":"white"},{"offset":0.9827,"color":"white"},{"offset":0.9827,"color":"black"},{"offset":1,"color":"black"}]}}},
   {"transform":[{"filter":"isValid(datum.hi)"}],"mark":{"type":"rule","color":"black","strokeWidth":1.3},"encoding":{"y2":{"field":"hi"}}},
   {"transform":[{"filter":"isValid(datum.hi)"}],"mark":{"type":"tick","orient":"horizontal","size":7,"thickness":1.3,"color":"black"},"encoding":{"y":{"field":"hi","type":"quantitative"}}}
  ]},

 {"width":205,"height":41,"data":{"values":[{"t":""}]},"mark":{"type":"text"},"encoding":{"text":{"field":"t"}}},

 {"width":205,"height":58,"data":{"values":[
   {"i":0,"t":"FIG. 4. Kinetics of IFN-γ- and IL-5-producing cells in spleens","b":3},
   {"i":1,"t":"from infected mice after stimulation by ConA (A), SEA (B), or","b":0},
   {"i":2,"t":"SWAP (C). Data are expressed as the number of spots per 3 × 10⁶","b":0},
   {"i":3,"t":"cells. The numbers of IFN-γ- and IL-5-producing cells without","b":0},
   {"i":4,"t":"stimulation were 16 and 5 per 3 × 10⁶ cells, respectively, and did not","b":0},
   {"i":5,"t":"vary significantly at different time points.","b":0}]},
  "encoding":{"x":{"value":0},"y":{"field":"i","type":"ordinal","scale":{"type":"point","padding":0,"align":0},"axis":null},"text":{"field":"t"}},
  "layer":[
   {"transform":[{"filter":"datum.b === 0"}],"mark":{"type":"text","align":"left","baseline":"middle","dx":-85,"font":"Liberation Serif","fontSize":11.2,"color":"black"}},
   {"transform":[{"filter":"datum.b === 3"}],"mark":{"type":"text","align":"left","baseline":"middle","dx":-74,"font":"Liberation Serif","fontSize":11.2,"color":"black"}}
  ]},

 {"width":205,"height":40,"data":{"values":[{"t":""}]},"mark":{"type":"text"},"encoding":{"text":{"field":"t"}}},

 {"width":205,"height":272,"data":{"values":[
   {"i":0,"t":"IL-5-producing cells was detected. SEA and SWAP did not","b":0},
   {"i":1,"t":"stimulate an increase in this background level.","b":0},
   {"i":2,"t":"Spleen cells from mice infected for 3 to 5 weeks contained","b":3},
   {"i":3,"t":"significantly fewer IFN-γ-producing cells than did normal","b":0},
   {"i":4,"t":"spleens after ConA stimulation (Fig. 4A; P < 0.001). The","b":0},
   {"i":5,"t":"number of IFN-γ-producing cells became very small at 7","b":0},
   {"i":6,"t":"weeks (P < 0.001) and stayed small until 22 weeks, when","b":0},
   {"i":7,"t":"there was again an increase compared with the number at 15","b":0},
   {"i":8,"t":"weeks (P < 0.001). SEA did not stimulate a significant","b":0},
   {"i":9,"t":"increase of IFN-γ-producing cells until 22 weeks after infec-","b":0},
   {"i":10,"t":"tion, at which point SEA stimulated a slight but significant","b":0},
   {"i":11,"t":"increase of IFN-γ-producing cells (Fig. 4B; P < 0.05), but","b":0},
   {"i":12,"t":"stimulation of IFN-γ-producing cells by SWAP never ex-","b":0},
   {"i":13,"t":"ceeded levels produced from normal spleen cells (Fig. 4C).","b":0},
   {"i":14,"t":"ConA stimulated a slight increase of IL-5-producing cells","b":3},
   {"i":15,"t":"from week 3 of infection (P < 0.01). The number of IL-5-","b":0},
   {"i":16,"t":"producing cells peaked at 7 to 10 weeks, fell slightly by 15","b":0},
   {"i":17,"t":"weeks, and remained significantly larger than that for normal","b":0}]},
  "encoding":{"x":{"value":0},"y":{"field":"i","type":"ordinal","scale":{"type":"point","padding":0,"align":0},"axis":null},"text":{"field":"t"}},
  "layer":[
   {"transform":[{"filter":"datum.b === 0"}],"mark":{"type":"text","align":"left","baseline":"middle","dx":-85,"font":"Liberation Serif","fontSize":13.2,"color":"black"}},
   {"transform":[{"filter":"datum.b === 3"}],"mark":{"type":"text","align":"left","baseline":"middle","dx":-73,"font":"Liberation Serif","fontSize":13.2,"color":"black"}}
  ]}
 ]}
]
}
